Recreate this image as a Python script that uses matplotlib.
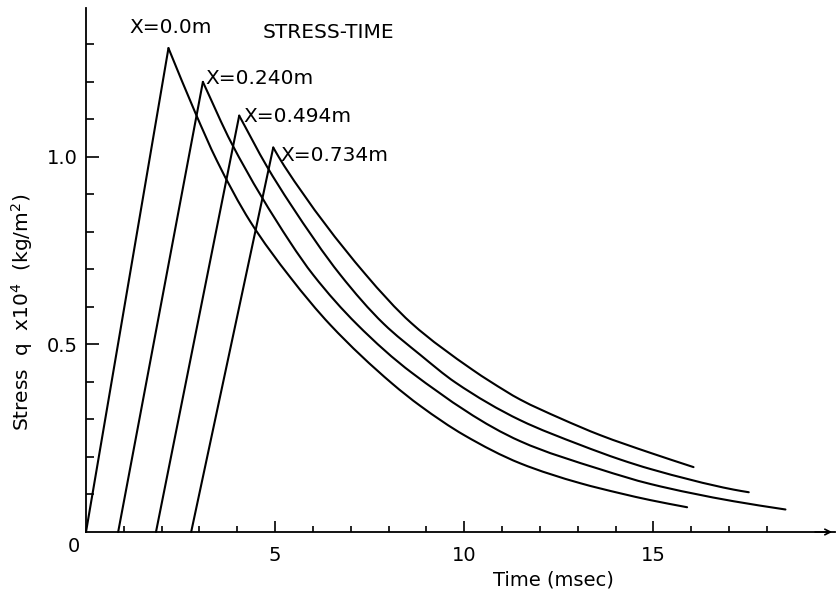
import matplotlib
matplotlib.use("Agg")
import matplotlib.pyplot as plt
from matplotlib.path import Path
from matplotlib.patches import PathPatch
from matplotlib.ticker import FixedLocator, NullFormatter, FixedFormatter

# ---- data (time in msec, stress q in 10^4 kg/m^2) ----
labels = ["X=0.0m", "X=0.240m", "X=0.494m", "X=0.734m"]

# start of the rise, then the peak, then points along the decay
t_x000 = [0.0, 2.18, 2.88, 3.46, 4.34, 5.40, 6.46, 8.09, 8.84, 10.0, 11.48, 13.07, 14.13, 14.92, 15.89]
q_x000 = [0.0, 1.29, 1.12, 0.99, 0.828, 0.679, 0.552, 0.396, 0.336, 0.258, 0.183, 0.130, 0.103, 0.085, 0.066]

t_x240 = [0.85, 3.09, 3.85, 5.40, 6.01, 7.16, 8.62, 11.48, 13.60, 14.92, 17.12, 18.49]
q_x240 = [0.0, 1.20, 1.036, 0.772, 0.685, 0.554, 0.424, 0.242, 0.167, 0.128, 0.082, 0.060]

t_x494 = [1.85, 4.05, 4.78, 5.40, 6.72, 7.87, 8.84, 9.76, 11.48, 13.07, 14.13, 14.92, 17.12, 17.52]
q_x494 = [0.0, 1.11, 0.975, 0.875, 0.686, 0.555, 0.472, 0.399, 0.298, 0.232, 0.193, 0.168, 0.113, 0.106]

t_x734 = [2.78, 4.95, 5.24, 7.38, 8.60, 10.21, 10.69, 11.48, 12.54, 13.60, 14.92, 16.06]
q_x734 = [0.0, 1.025, 0.976, 0.688, 0.557, 0.433, 0.401, 0.353, 0.303, 0.258, 0.211, 0.173]

series_t = [t_x000, t_x240, t_x494, t_x734]
series_q = [q_x000, q_x240, q_x494, q_x734]

x_major = [5, 10, 15]
x_minor = list(range(1, 19))
y_major = [0.5, 1.0]
y_major_labels = ["0.5", "1.0"]
y_minor = [0.1, 0.2, 0.3, 0.4, 0.6, 0.7, 0.8, 0.9, 1.1, 1.2, 1.3]

XMAX = 19.8
YMAX = 1.397

plt.rcParams['font.family'] = ['DejaVu Sans']


def smooth_path(t, q):
    """Monotone cubic (Fritsch-Carlson) Bezier path through the given points."""
    n = len(t)
    d = [(q[i + 1] - q[i]) / (t[i + 1] - t[i]) for i in range(n - 1)]
    m = [0.0] * n
    m[0] = d[0]
    m[-1] = d[-1]
    for i in range(1, n - 1):
        if d[i - 1] * d[i] <= 0:
            m[i] = 0.0
        else:
            h0 = t[i] - t[i - 1]
            h1 = t[i + 1] - t[i]
            w1 = 2 * h1 + h0
            w2 = h1 + 2 * h0
            m[i] = (w1 + w2) / (w1 / d[i - 1] + w2 / d[i])
    verts = [(t[0], q[0])]
    codes = [Path.MOVETO]
    for i in range(n - 1):
        h = t[i + 1] - t[i]
        verts += [(t[i] + h / 3, q[i] + m[i] * h / 3),
                  (t[i + 1] - h / 3, q[i + 1] - m[i + 1] * h / 3),
                  (t[i + 1], q[i + 1])]
        codes += [Path.CURVE4] * 3
    return Path(verts, codes)


fig = plt.figure(figsize=(8.39, 6.04), dpi=100)
ax = fig.add_axes([86/839, (604-532)/604, (835-86)/839, (532-8)/604])

for t, q in zip(series_t, series_q):
    # straight rise from start to peak
    ax.plot(t[:2], q[:2], color='black', lw=1.5, solid_capstyle='round', clip_on=False)
    # smooth decay from the peak on
    ax.add_patch(PathPatch(smooth_path(t[1:], q[1:]), facecolor='none',
                           edgecolor='black', lw=1.5, capstyle='round',
                           joinstyle='round', clip_on=False))

ax.set_xlim(0, XMAX)
ax.set_ylim(0, YMAX)

for s in ['top', 'right']:
    ax.spines[s].set_visible(False)
for s in ['left', 'bottom']:
    ax.spines[s].set_linewidth(1.3)

ax.xaxis.set_major_locator(FixedLocator(x_major))
ax.xaxis.set_minor_locator(FixedLocator([v for v in x_minor if v not in x_major]))
ax.yaxis.set_major_locator(FixedLocator(y_major))
ax.yaxis.set_minor_locator(FixedLocator(y_minor))
ax.yaxis.set_major_formatter(FixedFormatter(y_major_labels))
ax.xaxis.set_minor_formatter(NullFormatter())
ax.yaxis.set_minor_formatter(NullFormatter())

ax.tick_params(axis='both', which='both', direction='in', width=1.2, labelsize=14)
ax.tick_params(axis='x', which='major', length=8, pad=10)
ax.tick_params(axis='x', which='minor', length=4.5)
ax.tick_params(axis='y', which='major', length=9, pad=6)
ax.tick_params(axis='y', which='minor', length=6)

# origin label
ax.annotate("0", xy=(0, 0), xytext=(-8.6, -10.8), textcoords='offset points',
            ha='center', va='center', fontsize=14)

# arrow at the end of the time axis
ax.annotate("", xy=(XMAX, 0), xytext=(XMAX - 0.6, 0),
            arrowprops=dict(arrowstyle='->', lw=1.2, color='black'),
            annotation_clip=False)

# curve labels
label_pos = [(1.16, 1.344), (3.15, 1.208), (4.15, 1.107), (5.13, 1.005)]
for lab, (lx, ly) in zip(labels, label_pos):
    ax.text(lx, ly, lab, fontsize=14.5, ha='left', va='center')
ax.text(4.66, 1.333, "STRESS-TIME", fontsize=14.5, ha='left', va='center')

fig.text(553/839, 1 - 580/604, "Time (msec)", fontsize=14, ha='center', va='center')
fig.text(22/839, 1 - 312/604, r"Stress  q  x10$^4$  (kg/m$^2$)", fontsize=14.5,
         rotation=90, ha='center', va='center')

fig.savefig("out.png", dpi=100)
